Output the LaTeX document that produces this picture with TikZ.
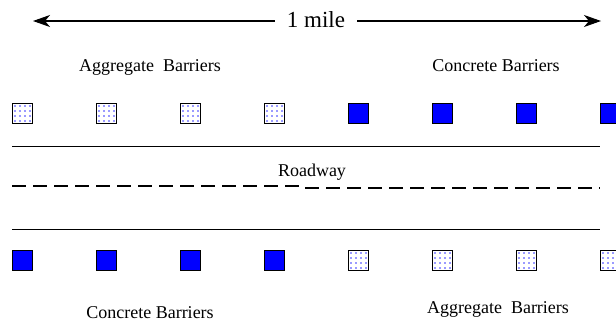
\documentclass[tikz,border=0pt]{standalone}
\usepackage{fontspec}
\setmainfont{Liberation Serif}
\usetikzlibrary{arrows.meta,calc}

\begin{document}
\begin{tikzpicture}[x=1pt, y=-1pt,
  every node/.style={font=\fontsize{18}{20}\selectfont},
  conc/.style={draw, line width=0.9pt, fill=blue, minimum size=20pt, inner sep=0pt},
  agg/.style={draw, line width=0.9pt, fill=white, minimum size=20pt, inner sep=0pt,
    path picture={\foreach \i in {3,8,13,18} \foreach \j in {3,8,13,18}
      \fill[blue!80] ($(path picture bounding box.north west)+(\i,\j)$) circle (0.8pt);}},
  lab/.style={anchor=base},
  edge/.style={-{Stealth[length=17pt, width=12pt, inset=5pt]}, line width=1.1pt},
  road/.style={line width=1pt},
  lane/.style={line width=2pt, dash pattern=on 14pt off 7pt}]
  \useasboundingbox (0,0) rectangle (616,322);
  % length marker
  \node[lab, font=\fontsize{23}{26}\selectfont, inner xsep=12pt] (mile) at (316,27) {1 mile};
  \coordinate (mileL) at (33,21);
  \coordinate (mileR) at (601,21);
  \draw[edge] (mile.west |- mileL) -- (mileL);
  \draw[edge] (mile.east |- mileR) -- (mileR);
  % labels
  \node[lab] (aggtop) at (150,71) {Aggregate\ \ Barriers};
  \node[lab] (conctop) at (496,71) {Concrete Barriers};
  \node[lab] (road) at (312,176) {Roadway};
  \node[lab] (concbot) at (150,318) {Concrete Barriers};
  \node[lab] (aggbot) at (498,313) {Aggregate\ \ Barriers};
  % top row of barriers
  \node[agg] (t1) at (22,113) {};
  \node[agg] (t2) at (106,113) {};
  \node[agg] (t3) at (190,113) {};
  \node[agg] (t4) at (274,113) {};
  \node[conc] (t5) at (358,113) {};
  \node[conc] (t6) at (442,113) {};
  \node[conc] (t7) at (526,113) {};
  \node[conc] (t8) at (610,113) {};
  % bottom row of barriers
  \node[conc] (b1) at (22,260) {};
  \node[conc] (b2) at (106,260) {};
  \node[conc] (b3) at (190,260) {};
  \node[conc] (b4) at (274,260) {};
  \node[agg] (b5) at (358,260) {};
  \node[agg] (b6) at (442,260) {};
  \node[agg] (b7) at (526,260) {};
  \node[agg] (b8) at (610,260) {};
  % roadway
  \draw[road] (12,146) -- (600,146);
  \draw[road] (12,229) -- (600,229);
  \draw[lane] (12,186) -- (305,186);
  \draw[lane] (305,188) -- (600,188);
\end{tikzpicture}
\end{document}
